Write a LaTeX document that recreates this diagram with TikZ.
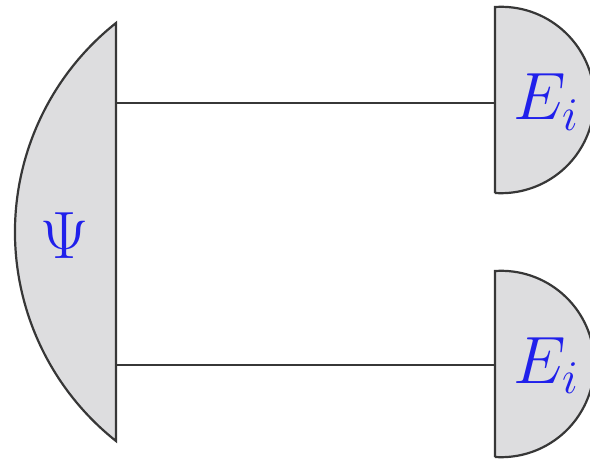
\RequirePackage{fix-cm}
\documentclass[tikz,border=0pt]{standalone}
\definecolor{edgegray}{RGB}{55,55,55}
\definecolor{detfill}{RGB}{221,221,223}
\definecolor{labelblue}{RGB}{32,32,235}
\begin{document}
\begin{tikzpicture}[x=1pt,y=1pt,
  detector/.style={draw=edgegray, fill=detfill, line width=2.2pt, line join=miter},
  wire/.style={draw=edgegray, line width=2.2pt},
  lbl/.style={text=labelblue, inner sep=0pt, font=\fontsize{67}{67}\selectfont}]
\useasboundingbox (0,0) rectangle (590,459);
\clip (0,0) rectangle (590,459);

% state preparation (left lens shape)
\path[detector] (116,18) -- (116,436)
  arc[start angle=128.4, end angle=231.6, radius=266.7] -- cycle;

% two measurement half-discs
\path[detector] (495,266) -- (495,452)
  arc[start angle=93.75, end angle=-93.75, radius=93.2] -- cycle;
\path[detector] (495,2) -- (495,188)
  arc[start angle=93.75, end angle=-93.75, radius=93.2] -- cycle;

% wire end points on the flat sides
\coordinate (srcTop) at (116,356);
\coordinate (srcBot) at (116,94);
\coordinate (measTop) at (495,356);
\coordinate (measBot) at (495,94);

\draw[wire] (srcTop) -- (measTop);
\draw[wire] (srcBot) -- (measBot);

% labels
\node[lbl, anchor=base] (psi) at (65,201) {$\Psi$};
\node[lbl, anchor=base] (eTop) at (546,339) {$E_i$};
\node[lbl, anchor=base] (eBot) at (546,76) {$E_i$};
\end{tikzpicture}
\end{document}
